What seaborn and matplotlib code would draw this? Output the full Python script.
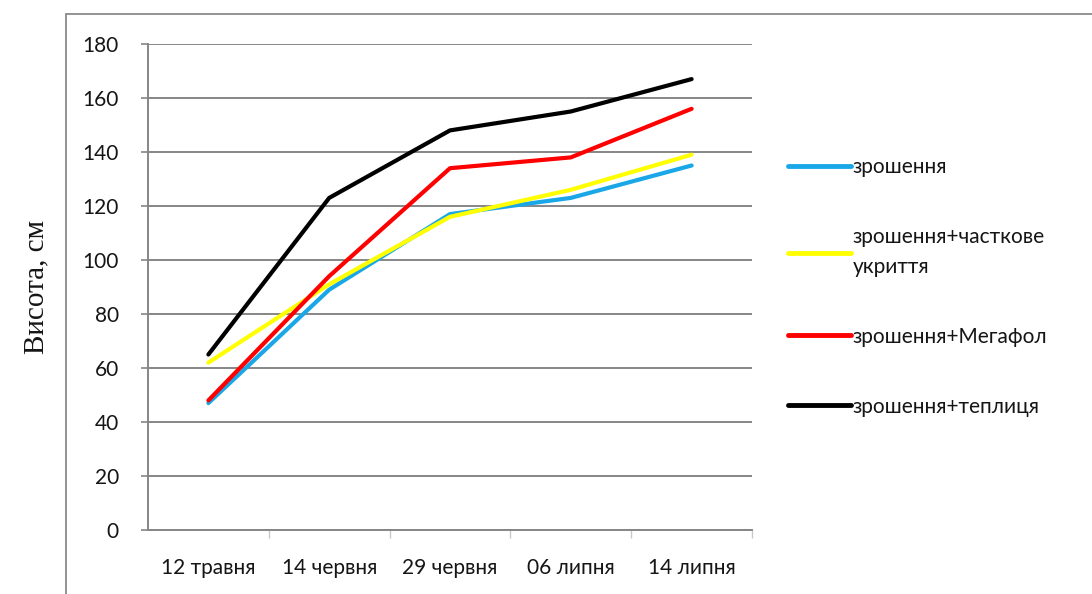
import matplotlib
matplotlib.use("Agg")
import matplotlib.pyplot as plt
from matplotlib.patches import Rectangle
from matplotlib.lines import Line2D
import seaborn as sns
import pandas as pd
import numpy as np

# Plant height by observation date for four growing variants
dates = ["12 травня", "14 червня", "29 червня", "06 липня", "14 липня"]
variants = ["зрошення", "зрошення+часткове\nукриття", "зрошення+Мегафол", "зрошення+теплиця"]
irrigation = [47, 89, 117, 123, 135]
partial_cover = [62, 91, 116, 126, 139]
megafol = [48, 94, 134, 138, 156]
greenhouse = [65, 123, 148, 155, 167]
colors = ["#1aa7e8", "#ffff00", "#ff0000", "#000000"]

series = [irrigation, partial_cover, megafol, greenhouse]
df = pd.DataFrame(
    [(i, v, name) for name, vals in zip(variants, series) for i, v in enumerate(vals)],
    columns=["pos", "height", "variant"],
)

sns.set_theme(style="white")
plt.rcParams["font.family"] = ["Lato", "DejaVu Sans"]

fig = plt.figure(figsize=(10.92, 5.94), dpi=100)
ax = fig.add_axes([148 / 1092, 1 - 530 / 594, (752 - 148) / 1092, (530 - 44) / 594])

sns.lineplot(data=df, x="pos", y="height", hue="variant", hue_order=variants,
             palette=colors, linewidth=3.0, ax=ax, legend=False, sort=False)

grid_c = "#868686"
text_c = "#151515"
ax.set_xlim(-0.5, 4.5)
ax.set_ylim(0, 180)
ax.set_yticks(np.arange(0, 181, 20))
ax.yaxis.grid(True, color=grid_c, linewidth=1.4)
ax.set_axisbelow(True)
ax.set_xticks(range(len(dates)))
ax.set_xticklabels(dates)
ax.set_xticks(np.arange(0.5, 4.6, 1.0), minor=True)
ax.tick_params(axis="x", which="major", length=0, pad=20, labelsize=15, labelcolor=text_c)
ax.tick_params(axis="x", which="minor", length=6, width=1, color="#c8c8c8", direction="out", bottom=True)
ax.tick_params(axis="y", length=5, width=1.2, color=grid_c, direction="out", left=True,
               pad=16, labelsize=15, labelcolor=text_c)
for s in ["top", "right"]:
    ax.spines[s].set_visible(False)
for s in ["left", "bottom"]:
    ax.spines[s].set_color(grid_c)
    ax.spines[s].set_linewidth(1.4)
ax.set_xlabel("")
ax.set_ylabel("Висота, см", family=["Liberation Serif", "DejaVu Serif"], fontsize=21,
              color=text_c, labelpad=24)

handles = [Line2D([0], [0], color=c, linewidth=3.5) for c in colors]
leg = fig.legend(handles, variants, loc="upper left", bbox_to_anchor=(788 / 1092, 1 - 157 / 594),
                 frameon=False, fontsize=15, handlelength=3.0, handletextpad=0.1,
                 labelspacing=2.4, borderpad=0, borderaxespad=0)
for t in leg.get_texts():
    t.set_color(text_c)
    t.set_linespacing(1.6)

fig.patches.append(Rectangle((66 / 1092, -0.1), 1.0, 1.1 - 14 / 594, transform=fig.transFigure,
                             fill=False, edgecolor="#8a8a8a", linewidth=1.3))

fig.savefig("out.png", dpi=100, facecolor="white")
